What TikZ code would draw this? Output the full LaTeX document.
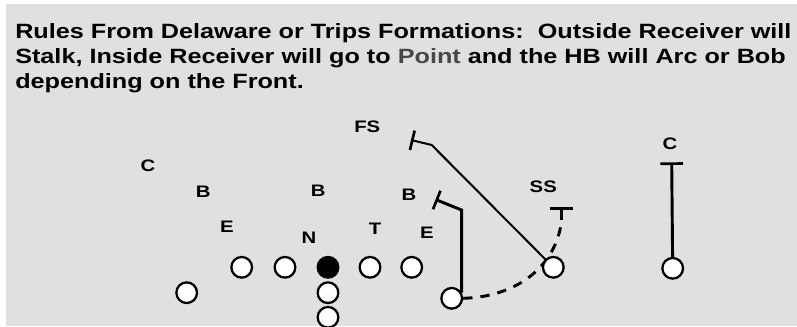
\documentclass[tikz,border=0pt]{standalone}
\usepackage{fontspec}
\setmainfont{Liberation Sans}[FakeStretch=1.22]
\usetikzlibrary{arrows.meta,backgrounds}

\definecolor{fieldgray}{RGB}{224,224,224}
\definecolor{pointgray}{RGB}{72,72,72}

\tikzset{
    player/.style={circle,draw=black,line width=1.7pt,fill=white,minimum size=15.5pt,inner sep=0pt},
    snapper/.style={player,fill=black},
    defender/.style={font=\bfseries\fontsize{12.5}{12.5}\selectfont,inner sep=0pt},
    route/.style={line width=2.2pt},
    block/.style={-{Bar[width=#1,line width=2pt]}},
    block/.default=16pt
}

\begin{document}
\begin{tikzpicture}[x=0.75pt,y=-0.75pt]
            \useasboundingbox (0,0) rectangle (797,326);

            \node[anchor=north west,align=left,inner sep=0pt,
                  font=\bfseries\fontsize{15.5}{18.75}\selectfont] (rules) at (15,23)
                {Rules From Delaware or Trips Formations:\ \ Outside Receiver will\\
                 Stalk, Inside Receiver will go to \textcolor{pointgray}{Point} and the HB will Arc or Bob\\
                 depending on the Front.};

            % offense
            \node[player]  (lt)  at (241.7,267.3) {};
            \node[player]  (lg)  at (285,267.3) {};
            \node[snapper] (c)   at (328,267.3) {};
            \node[player]  (rg)  at (370,267.3) {};
            \node[player]  (rt)  at (411.7,267.3) {};
            \node[player]  (qb)  at (328,292.7) {};
            \node[player]  (fb)  at (328,317.3) {};
            \node[player]  (wb)  at (186.7,292.7) {};
            \node[player]  (hb)  at (451.7,298.3) {};
            \node[player]  (irc) at (553.3,267.3) {};
            \node[player]  (orc) at (672.7,268.3) {};

            % defense
            \node[defender] (lc)  at (148,166) {C};
            \node[defender] (lb1) at (203.3,192) {B};
            \node[defender] (le)  at (227,227) {E};
            \node[defender] (lb2) at (318.3,191) {B};
            \node[defender] (n)   at (309,237.5) {N};
            \node[defender] (fs)  at (367.3,127) {FS};
            \node[defender] (t)   at (375,229) {T};
            \node[defender] (lb3) at (409,195) {B};
            \node[defender] (re)  at (427,233) {E};
            \node[defender] (ss)  at (543.3,186.5) {SS};
            \node[defender] (rc)  at (670,144) {C};

            % route ends
            \coordinate (fsturn)  at (431.7,145);
            \coordinate (fsend)   at (411,140);
            \coordinate (bobturn) at (460.5,210);
            \coordinate (bobend)  at (435.5,199.5);
            \coordinate (arcend)  at (561.7,220);
            \coordinate (ssend)   at (561.7,207);
            \coordinate (stalkend) at (671.7,162.3);

            \begin{scope}[on background layer]
                \fill[white] (0,0) rectangle (797,326);
                \fill[fieldgray] (6,4) rectangle (797,326);
                % stalk
                \draw[route,block=17pt] (orc) -- (stalkend);
                % point
                \draw[line width=1.5pt,block=15pt] (irc) -- (fsturn) -- (fsend);
                % bob
                \draw[route,block=15pt] (hb.30) -- (hb.30 |- bobturn) -- (bobend);
                % arc
                \draw[route,dash pattern=on 7pt off 6pt] (hb.east) .. controls (515,297) and (556,268) .. (arcend);
                \draw[route,block=17pt] (arcend) -- (ssend);
            \end{scope}
        \end{tikzpicture}
\end{document}
